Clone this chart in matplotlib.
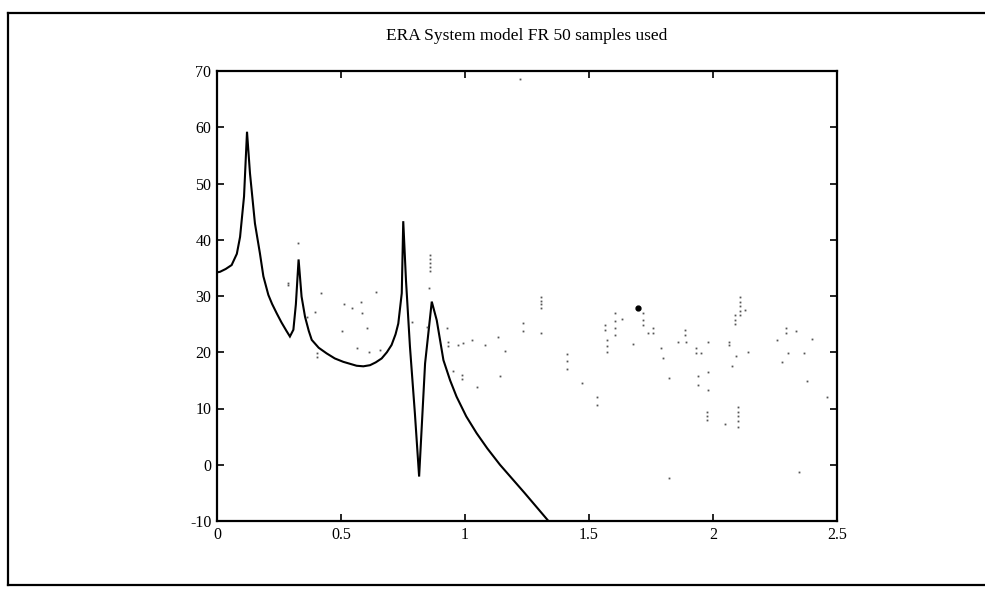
import matplotlib
matplotlib.use('Agg')
import matplotlib.pyplot as plt
from matplotlib.lines import Line2D

title = "ERA System model FR 50 samples used"

# model frequency response curve
curve_x = [0.0, 0.012, 0.035, 0.059, 0.080, 0.093, 0.109, 0.121, 0.133, 0.153,
           0.173, 0.187, 0.207, 0.222, 0.241, 0.260, 0.280, 0.294, 0.308, 0.318,
           0.329, 0.341, 0.355, 0.370, 0.382, 0.410, 0.442, 0.475, 0.509, 0.563,
           0.590, 0.617, 0.640, 0.664, 0.685, 0.704, 0.720, 0.731, 0.745, 0.751,
           0.762, 0.778, 0.798, 0.815, 0.839, 0.866, 0.886, 0.913, 0.940, 0.966,
           1.005, 1.047, 1.090, 1.141, 1.240, 1.350]
curve_y = [34.2, 34.3, 34.8, 35.5, 37.5, 40.5, 47.7, 59.2, 51.8, 42.9,
           37.6, 33.5, 30.2, 28.6, 26.9, 25.3, 23.8, 22.8, 24.0, 28.5,
           36.5, 29.9, 26.3, 23.8, 22.2, 20.8, 19.8, 18.9, 18.3, 17.6,
           17.5, 17.7, 18.2, 18.9, 20.0, 21.3, 23.2, 25.1, 30.5, 43.3,
           32.8, 21.0, 9.1, -2.1, 18.0, 29.0, 25.7, 18.6, 15.0, 12.1,
           8.6, 5.6, 2.9, 0.0, -5.0, -10.7]

# measured samples (faint dots)
dots_x = [0.288, 0.288, 0.325, 0.362, 0.395, 0.402, 0.402, 0.418, 0.503, 0.512,
          0.543, 0.563, 0.581, 0.586, 0.604, 0.614, 0.641, 0.657, 0.785, 0.846,
          0.856, 0.859, 0.859, 0.859, 0.859, 0.859, 0.926, 0.933, 0.933, 0.953,
          0.973, 0.987, 0.987, 0.993, 1.027, 1.050, 1.081, 1.134, 1.141, 1.161,
          1.220, 1.235, 1.235, 1.305, 1.305, 1.305, 1.305, 1.305, 1.410, 1.410,
          1.410, 1.470, 1.534, 1.534, 1.565, 1.565, 1.571, 1.571, 1.571, 1.605,
          1.605, 1.605, 1.605, 1.634, 1.676, 1.719, 1.719, 1.719, 1.739, 1.757,
          1.757, 1.789, 1.800, 1.824, 1.824, 1.858, 1.887, 1.887, 1.891, 1.930,
          1.930, 1.950, 1.941, 1.941, 1.981, 1.981, 1.979, 1.975, 1.975, 1.975,
          2.050, 2.066, 2.066, 2.078, 2.089, 2.089, 2.089, 2.102, 2.102, 2.102,
          2.102, 2.102, 2.109, 2.109, 2.109, 2.109, 2.109, 2.093, 2.129, 2.140,
          2.257, 2.277, 2.293, 2.293, 2.304, 2.335, 2.367, 2.378, 2.398, 2.347,
          2.460]
dots_y = [32.0, 32.4, 39.5, 26.3, 27.2, 19.9, 19.2, 30.6, 23.7, 28.6,
          27.8, 20.7, 29.0, 27.0, 24.3, 20.1, 30.8, 20.4, 25.4, 24.5,
          31.4, 34.4, 35.1, 35.8, 36.5, 37.3, 24.3, 21.8, 21.2, 16.7,
          21.3, 15.2, 16.0, 21.6, 22.1, 13.9, 21.3, 22.8, 15.7, 20.3,
          68.5, 25.2, 23.7, 29.9, 29.2, 28.5, 27.8, 23.5, 19.7, 18.4,
          17.0, 14.6, 12.1, 10.6, 24.8, 24.0, 22.2, 21.1, 20.1, 26.9,
          25.6, 24.3, 23.1, 26.0, 21.5, 26.9, 25.8, 24.8, 23.5, 24.3,
          23.5, 20.7, 18.9, 15.5, -2.4, 21.9, 24.0, 23.1, 21.9, 20.7,
          19.9, 19.9, 15.7, 14.2, 21.9, 16.5, 13.3, 9.4, 8.7, 8.0,
          7.2, 21.9, 21.3, 17.5, 26.6, 25.8, 25.1, 10.3, 9.4, 8.6,
          7.7, 6.8, 29.9, 29.0, 28.2, 27.4, 26.6, 19.3, 27.6, 20.1,
          22.2, 18.3, 24.3, 23.5, 19.9, 23.8, 19.9, 14.9, 22.4, -1.3,
          12.1]
big_dot_x = [1.699]
big_dot_y = [27.8]

x_ticks = [0, 0.5, 1, 1.5, 2, 2.5]
x_tick_labels = ["0", "0.5", "1", "1.5", "2", "2.5"]
y_ticks = [-10, 0, 10, 20, 30, 40, 50, 60, 70]
y_tick_labels = ["-10", "0", "10", "20", "30", "40", "50", "60", "70"]

W, H = 985, 593
fig = plt.figure(figsize=(W / 100, H / 100), dpi=100)
fig.patch.set_facecolor('white')
plt.rcParams['font.family'] = ['Liberation Serif', 'DejaVu Serif']

ax = fig.add_axes([217 / W, 1 - 521 / H, 620 / W, 450 / H])
ax.plot(curve_x, curve_y, color='black', lw=1.5, solid_joinstyle='miter')
ax.plot(dots_x, dots_y, linestyle='none', marker='s', markersize=1.3,
        color='#555555', markeredgewidth=0)
ax.plot(big_dot_x, big_dot_y, linestyle='none', marker='o', markersize=3.5,
        color='black')

ax.set_xlim(0, 2.5)
ax.set_ylim(-10, 70)
ax.set_xticks(x_ticks)
ax.set_xticklabels(x_tick_labels)
ax.set_yticks(y_ticks)
ax.set_yticklabels(y_tick_labels)
ax.tick_params(direction='in', length=5, width=1.2, top=True, right=True,
               labelsize=11.5, pad=4)
for s in ax.spines.values():
    s.set_linewidth(1.6)

fig.text(527 / W, 1 - 36 / H, title, ha='center', va='center', fontsize=12.5)

# outer frame of the scanned page
frame_kw = dict(color='black', lw=1.6, transform=fig.transFigure)
fig.add_artist(Line2D([8 / W, 1.0], [1 - 13 / H, 1 - 13 / H], **frame_kw))
fig.add_artist(Line2D([8 / W, 8 / W], [1 - 13 / H, 1 - 585 / H], **frame_kw))
fig.add_artist(Line2D([8 / W, 1.0], [1 - 585 / H, 1 - 585 / H], **frame_kw))

fig.savefig('out.png', dpi=100)
